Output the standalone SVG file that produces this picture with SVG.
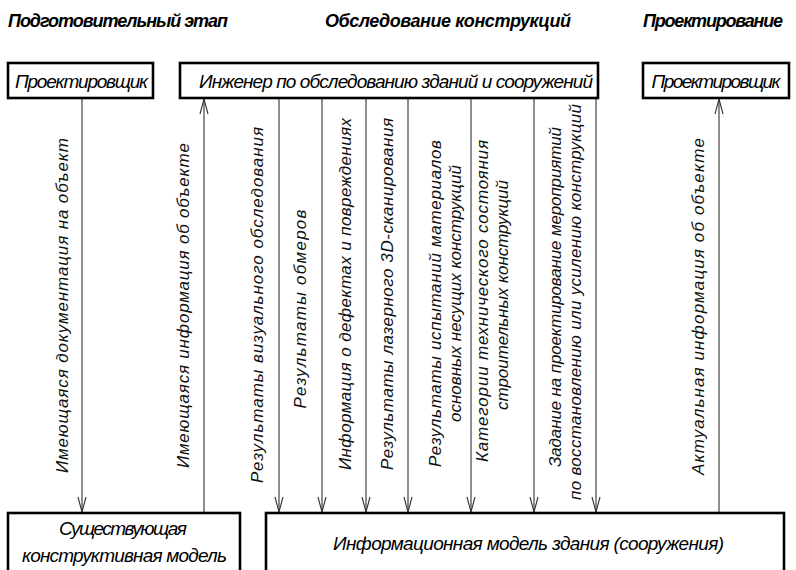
<svg xmlns="http://www.w3.org/2000/svg" width="796" height="570" viewBox="0 0 796 570">
  <style>
    .hdr { font-family: "Liberation Sans", "DejaVu Sans", sans-serif; font-size: 18px; font-style: italic; font-weight: bold; fill: #000; }
    .box { fill: #fff; stroke: #000; stroke-width: 2.6; }
    .btxt { font-family: "Liberation Sans", "DejaVu Sans", sans-serif; font-size: 19px; font-style: italic; fill: #000; text-anchor: middle; }
    .flow { stroke: #333; stroke-width: 1.1; fill: none; marker-end: url(#vee); }
    .lbl { font-family: "Liberation Sans", "DejaVu Sans", sans-serif; font-size: 17px; font-style: italic; fill: #111; text-anchor: middle; }
  </style>
  <defs>
    <marker id="vee" viewBox="-16 -5 17 10" refX="0" refY="0" markerWidth="17" markerHeight="10" markerUnits="userSpaceOnUse" orient="auto">
      <path d="M-15,-4 L0,0 L-15,4" fill="none" stroke="#333" stroke-width="1.1"/>
    </marker>
  </defs>
  <rect width="796" height="570" fill="#fff"/>

  <!-- stage headings -->
  <g id="headings">
    <text class="hdr" x="8" y="27" textLength="220">Подготовительный этап</text>
    <text class="hdr" x="325" y="27" textLength="246">Обследование конструкций</text>
    <text class="hdr" x="643" y="27" textLength="140">Проектирование</text>
  </g>

  <!-- connectors with their labels -->
  <g id="connectors">
    <g id="c-docs">
      <line class="flow" x1="82" y1="98" x2="82" y2="512"/>
      <text class="lbl" transform="translate(68,305.5) rotate(-90)" textLength="335">Имеющаяся документация на объект</text>
    </g>
    <g id="c-existing">
      <line class="flow" x1="204" y1="513" x2="204" y2="99"/>
      <text class="lbl" transform="translate(189,305.5) rotate(-90)" textLength="325">Имеющаяся информация об объекте</text>
    </g>
    <g id="c-visual">
      <line class="flow" x1="279" y1="98" x2="279" y2="512"/>
      <text class="lbl" transform="translate(263,305) rotate(-90)" textLength="356">Результаты визуального обследования</text>
    </g>
    <g id="c-measure">
      <line class="flow" x1="322" y1="98" x2="322" y2="512"/>
      <text class="lbl" transform="translate(306,309) rotate(-90)" textLength="199">Результаты обмеров</text>
    </g>
    <g id="c-defects">
      <line class="flow" x1="366" y1="98" x2="366" y2="512"/>
      <text class="lbl" transform="translate(351,294) rotate(-90)" textLength="352">Информация о дефектах и повреждениях</text>
    </g>
    <g id="c-scan">
      <line class="flow" x1="408" y1="98" x2="408" y2="512"/>
      <text class="lbl" transform="translate(393,294) rotate(-90)" textLength="352">Результаты лазерного 3D-сканирования</text>
    </g>
    <g id="c-tests">
      <line class="flow" x1="471" y1="98" x2="471" y2="512"/>
      <text class="lbl" transform="translate(441,303.5) rotate(-90)" textLength="327">Результаты испытаний материалов</text>
      <text class="lbl" transform="translate(461,293.5) rotate(-90)" textLength="257">основных несущих конструкций</text>
    </g>
    <g id="c-category">
      <line class="flow" x1="534" y1="98" x2="534" y2="512"/>
      <text class="lbl" transform="translate(488,301) rotate(-90)" textLength="322">Категории технического состояния</text>
      <text class="lbl" transform="translate(508,295) rotate(-90)" textLength="230">строительных конструкций</text>
    </g>
    <g id="c-task">
      <line class="flow" x1="596" y1="98" x2="596" y2="512"/>
      <text class="lbl" transform="translate(561,297) rotate(-90)" textLength="340">Задание на проектирование мероприятий</text>
      <text class="lbl" transform="translate(581,302) rotate(-90)" textLength="396">по восстановлению или усилению конструкций</text>
    </g>
    <g id="c-actual">
      <line class="flow" x1="719" y1="513" x2="719" y2="99"/>
      <text class="lbl" transform="translate(704,306.5) rotate(-90)" textLength="337">Актуальная информация об объекте</text>
    </g>
  </g>

  <!-- nodes -->
  <g id="n-designer-1">
    <rect class="box" x="8" y="63" width="145" height="35"/>
    <text class="btxt" x="81.5" y="88" textLength="133">Проектировщик</text>
  </g>
  <g id="n-engineer">
    <rect class="box" x="180" y="63" width="418" height="35"/>
    <text class="btxt" x="396" y="88" textLength="394">Инженер по обследованию зданий и сооружений</text>
  </g>
  <g id="n-designer-2">
    <rect class="box" x="643" y="63" width="146" height="35"/>
    <text class="btxt" x="716" y="88" textLength="129">Проектировщик</text>
  </g>
  <g id="n-existing-model">
    <rect class="box" x="8" y="513" width="232" height="70"/>
    <text class="btxt" x="123" y="535" textLength="128">Существующая</text>
    <text class="btxt" x="124.5" y="562" textLength="205">конструктивная модель</text>
  </g>
  <g id="n-bim">
    <rect class="box" x="266" y="513" width="518" height="70"/>
    <text class="btxt" x="528.5" y="550" textLength="391">Информационная модель здания (сооружения)</text>
  </g>
</svg>
